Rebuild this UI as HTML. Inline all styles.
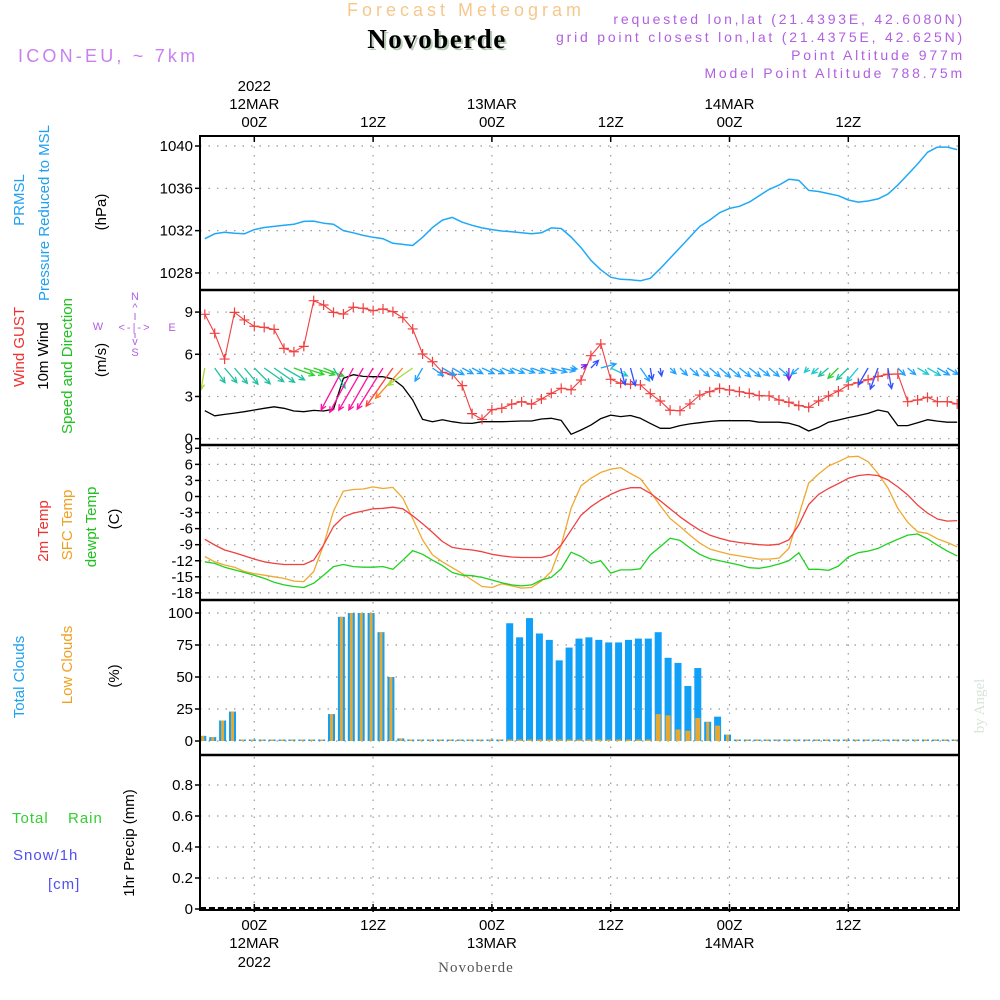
<!DOCTYPE html>
<html><head><meta charset="utf-8"><title>Forecast Meteogram Novoberde</title>
<style>
html,body{margin:0;padding:0;background:#fff;}
svg{display:block;font-family:"Liberation Sans",sans-serif;}
</style></head>
<body>
<svg id="chart" width="1000" height="1000" viewBox="0 0 1000 1000" xmlns="http://www.w3.org/2000/svg">
<rect width="1000" height="1000" fill="#fff"/>
<!-- header -->
<text x="466" y="16" text-anchor="middle" font-size="18" fill="#f5c88c" letter-spacing="4">Forecast Meteogram</text>
<text x="439" y="50" text-anchor="middle" font-family="Liberation Serif,serif" font-weight="bold" font-size="27" fill="#b8ccb8" letter-spacing="1.5">Novoberde</text>
<text x="437" y="48" text-anchor="middle" font-family="Liberation Serif,serif" font-weight="bold" font-size="27" fill="#000" letter-spacing="1.5">Novoberde</text>
<text x="18" y="62" font-size="18" fill="#c880f0" letter-spacing="3.2">ICON-EU, ~ 7km</text>
<g font-size="14" fill="#b060e0" text-anchor="end" letter-spacing="2.8">
<text x="965" y="24">requested lon,lat (21.4393E, 42.6080N)</text>
<text x="965" y="42">grid point closest lon,lat (21.4375E, 42.625N)</text>
<text x="965" y="60">Point Altitude 977m</text>
<text x="965" y="78">Model Point Altitude 788.75m</text>
</g>
<!-- left labels -->
<g font-size="15" text-anchor="middle">
<text transform="translate(24,200) rotate(-90)" fill="#20a0f0">PRMSL</text>
<text transform="translate(49,213) rotate(-90)" fill="#20a0f0">Pressure Reduced to MSL</text>
<text transform="translate(106,212) rotate(-90)" fill="#000">(hPa)</text>
<text transform="translate(24,347) rotate(-90)" fill="#f03030">Wind GUST</text>
<text transform="translate(48,356) rotate(-90)" fill="#000">10m Wind</text>
<text transform="translate(72,366) rotate(-90)" fill="#20c020">Speed and Direction</text>
<text transform="translate(106,360) rotate(-90)" fill="#000">(m/s)</text>
<text transform="translate(48,531) rotate(-90)" fill="#f03030">2m Temp</text>
<text transform="translate(72,525) rotate(-90)" fill="#f0a020">SFC Temp</text>
<text transform="translate(96,527) rotate(-90)" fill="#20c020">dewpt Temp</text>
<text transform="translate(119,519) rotate(-90)" fill="#000">(C)</text>
<text transform="translate(24,677) rotate(-90)" fill="#20a0f0">Total Clouds</text>
<text transform="translate(72,665) rotate(-90)" fill="#f0a020">Low Clouds</text>
<text transform="translate(119,676) rotate(-90)" fill="#000">(%)</text>
<text transform="translate(134,843) rotate(-90)" fill="#000">1hr Precip (mm)</text>
<text x="12" y="823" text-anchor="start" fill="#30d030" letter-spacing="1">Total</text>
<text x="68" y="823" text-anchor="start" fill="#30d030" letter-spacing="1">Rain</text>
<text x="13" y="860" text-anchor="start" fill="#5050f0" letter-spacing="1">Snow/1h</text>
<text x="48" y="889" text-anchor="start" fill="#5050f0" letter-spacing="1">[cm]</text>
</g>
<g font-size="11" fill="#b060e0" text-anchor="middle">
<text x="135" y="300">N</text><text x="135" y="311">^</text>
<text x="135" y="331" letter-spacing="2">&lt;-|-&gt;</text>
<text x="98" y="330">W</text><text x="172" y="331">E</text>
<text x="135" y="345">v</text><text x="135" y="356">S</text>
<line x1="135" y1="313" x2="135" y2="320" stroke="#b060e0"/>
<line x1="135" y1="333" x2="135" y2="338" stroke="#b060e0"/>
</g>
<text transform="translate(984,706) rotate(-90)" text-anchor="middle" font-family="Liberation Serif,serif" font-size="15" fill="#d8e4d8">by Angel</text>
<text x="476" y="972" text-anchor="middle" font-family="Liberation Serif,serif" font-size="15" fill="#555" letter-spacing="1">Novoberde</text>
<g id="plot"></g>
</svg>
<script>
// ---- data (hourly from -5h to +71h relative to 12MAR 00Z) ----
const startHour = -5;
const pressure = [1031.24,1031.7,1031.85,1031.75,1031.7,1032.1,1032.3,1032.4,1032.5,1032.6,1032.87,1032.9,1032.7,1032.6,1032.0,1031.8,1031.55,1031.37,1031.24,1030.8,1030.7,1030.6,1031.37,1032.3,1033.0,1033.25,1032.8,1032.5,1032.26,1032.1,1031.97,1031.9,1031.8,1031.7,1031.8,1032.26,1032.2,1031.4,1030.4,1029.2,1028.3,1027.6,1027.4,1027.35,1027.26,1027.5,1028.4,1029.4,1030.4,1031.4,1032.4,1033.0,1033.7,1034.1,1034.3,1034.7,1035.3,1035.9,1036.3,1036.85,1036.75,1035.8,1035.7,1035.5,1035.3,1034.9,1034.7,1034.8,1035.0,1035.45,1036.3,1037.3,1038.3,1039.4,1039.9,1039.9,1039.65];
const gust = [8.84,7.49,5.66,8.98,8.44,7.99,7.91,7.77,6.42,6.18,6.56,9.81,9.5,8.98,8.86,9.34,9.27,9.1,9.22,9.03,8.6,7.8,6.02,5.47,4.72,4.57,3.77,1.78,1.37,2.06,2.16,2.46,2.63,2.46,2.82,3.22,3.58,3.48,4.17,5.9,6.73,4.22,3.94,3.87,3.82,3.2,2.68,2.02,1.99,2.47,3.1,3.34,3.58,3.46,3.34,3.22,3.06,3.04,2.75,2.59,2.35,2.23,2.68,3.04,3.39,3.82,3.98,4.19,4.43,4.58,4.6,2.63,2.75,2.94,2.63,2.63,2.47];
const wind10 = [1.99,1.63,1.73,1.82,1.92,2.04,2.16,2.27,2.16,1.97,1.92,2.01,1.97,2.1,4.3,4.55,4.43,4.41,4.41,4.24,3.7,2.75,1.37,1.21,1.35,1.21,1.11,1.09,1.21,1.21,1.21,1.23,1.26,1.26,1.4,1.45,1.3,0.31,0.62,0.97,1.43,1.68,1.57,1.65,1.45,1.09,0.74,0.74,0.93,1.05,1.14,1.22,1.28,1.28,1.28,1.28,1.17,1.17,1.17,1.1,0.9,0.55,0.8,1.17,1.33,1.5,1.64,1.8,2.04,1.9,0.93,0.93,1.14,1.35,1.25,1.17,1.17];
const windToAngle = [100,55,50,50,50,45,35,35,30,20,18,18,22,60,118,118,120,120,122,125,132,145,120,35,30,30,28,28,25,25,22,22,20,20,18,15,12,10,-30,-45,-15,25,75,75,55,80,80,45,45,42,42,40,40,40,38,38,38,40,40,90,140,135,140,140,135,135,130,120,110,80,45,40,30,30,30,30,30];
const windColorKey = ["Y","T","T","T","T","T","T","T","T","G","G","G","G","T","M","M","M","M","M","R","O","L","S","S","S","S","S","S","S","S","S","S","S","S","S","S","S","S","P","B","S","C","B","B","S","B","B","S","S","S","S","S","S","S","S","S","S","S","S","P","S","C","C","T","G","T","C","B","B","B","S","S","C","C","S","S","S"];
const temp2m = [-8.0,-9.06,-10.0,-10.5,-11.1,-11.7,-12.2,-12.5,-12.7,-12.7,-12.7,-11.9,-9.06,-5.6,-3.8,-3.1,-2.7,-2.3,-2.2,-2.0,-2.3,-3.6,-5.1,-6.7,-8.4,-9.5,-9.8,-10.0,-10.3,-10.8,-11.1,-11.3,-11.4,-11.4,-11.4,-10.9,-9.06,-6.3,-3.5,-1.9,-0.65,0.4,1.2,1.64,1.64,0.6,-0.8,-2.3,-3.8,-5.1,-6.3,-7.2,-7.8,-8.3,-8.6,-8.8,-9.0,-9.1,-8.9,-8.1,-5.3,-1.5,0.4,1.5,2.4,3.4,3.9,4.1,3.9,3.1,1.8,0.3,-1.6,-3.1,-4.2,-4.6,-4.5];
const tempSfc = [-11.2,-12.2,-12.8,-13.2,-14.0,-14.4,-14.7,-15.0,-15.3,-15.8,-15.9,-14.0,-9.06,-2.7,1.0,1.3,1.4,1.8,1.5,1.7,-0.3,-4.1,-8.1,-10.9,-12.2,-13.3,-14.4,-15.6,-16.8,-17.0,-16.3,-16.7,-17.1,-17.0,-15.8,-14.0,-9.06,-2.2,2.0,3.4,4.5,5.1,5.4,4.3,3.3,0.9,-1.7,-4.1,-5.6,-7.2,-8.7,-9.8,-10.3,-10.8,-11.1,-11.4,-11.7,-11.7,-11.5,-9.7,-3.5,2.5,4.2,5.7,6.5,7.4,7.5,6.5,4.3,1.6,-2.2,-4.8,-6.6,-6.9,-7.9,-8.6,-9.4];
const dewpoint = [-12.2,-12.5,-13.2,-13.7,-14.2,-14.7,-15.3,-16.0,-16.5,-16.8,-17.0,-16.2,-14.7,-13.1,-12.7,-13.1,-13.2,-13.2,-13.1,-13.6,-11.9,-10.1,-10.8,-11.9,-12.9,-14.2,-14.7,-14.8,-15.1,-15.6,-16.1,-16.5,-16.7,-16.5,-15.6,-15.1,-13.5,-10.4,-11.2,-12.5,-12.0,-14.3,-13.7,-13.7,-13.5,-10.9,-9.4,-7.8,-8.2,-9.6,-10.8,-11.6,-12.0,-12.4,-12.8,-13.3,-13.4,-13.1,-12.6,-12.0,-10.5,-13.6,-13.6,-13.8,-13.0,-11.3,-10.5,-10.2,-9.7,-8.8,-8.0,-7.2,-7.0,-7.9,-9.1,-10.2,-11.1];
const totalClouds = [4,3,16,23,0,0,0,0,0,0,0,0,0,21,97,100,100,100,85,50,2,0,0,0,0,0,0,0,0,0,0,92,81,96,84,79,63,73,80,81,79,77,77,79,80,80,85,65,61,43,57,15,19,5,0,0,0,0,0,0,0,0,0,0,0,0,0,0,0,0,0,0,0,0,0,0,0];
const lowClouds = [4,3,16,23,0,0,0,0,0,0,0,0,0,21,97,100,100,100,85,50,2,0,0,0,0,0,0,0,0,0,0,0,0,0,0,0,0,0,0,0,0,0,0,0,0,0,21,20,9,8,18,15,12,5,0,0,0,0,0,0,0,0,0,0,0,0,0,0,0,0,0,0,0,0,0,0,0];
const gridHours = [0,12,24,36,48,60];
const timeLabels = ["00Z","12Z","00Z","12Z","00Z","12Z"];
const dateLabels = ["12MAR","","13MAR","","14MAR",""];
const pressureTicks = [1028,1032,1036,1040];
const windTicks = [0,3,6,9];
const tempTicks = [9,6,3,0,-3,-6,-9,-12,-15,-18];
const cloudTicks = [0,25,50,75,100];
const precipTicks = [0,0.2,0.4,0.6,0.8];
const colorMap = {Y:"#a8d830",T:"#20c0a0",C:"#20c8d0",G:"#30d030",M:"#ff10a0",R:"#ff4040",O:"#ff8020",L:"#a0e040",B:"#3050ff",S:"#20a0ff",P:"#8020e0"};

// ---- axes ----
const L = 200, R = 959;
const xH = h => 254.3 + 9.9 * h;
const yP = p => 146 + (1040 - p) * 10.58;
const yW = v => 438.7 - 14.07 * v;
const yT = t => 448.3 + (9 - t) * 5.355;
const yC = c => 741 - 1.28 * c;
const yR = v => 909 - 155 * v;
const panels = [[136,290],[290,445],[445,600],[600,755],[755,910]];

const NS = "http://www.w3.org/2000/svg";
const plot = document.getElementById("plot");
function mk(tag, attrs, parent) {
  const e = document.createElementNS(NS, tag);
  for (const k in attrs) e.setAttribute(k, attrs[k]);
  (parent || plot).appendChild(e);
  return e;
}
const defs = mk("defs", {});
const cp = mk("clipPath", {id: "clip"}, defs);
mk("rect", {x: L, y: 136, width: R - L, height: 774}, cp);

// grids
const grid = mk("g", {stroke: "#999", "stroke-width": 1.2, "stroke-dasharray": "1.5 7"});


gridHours.forEach(h => {
  panels.forEach(p => {
    mk("line", {x1: xH(h), x2: xH(h), y1: p[0] + 2, y2: p[1] - 1}, grid);
  });
});
function hgrid(ticks, yf, name) {
  const g = mk("g", {});
  
  
  ticks.forEach(t => {
    const y = yf(t);
    mk("line", {x1: L, x2: R, y1: y, y2: y, stroke: "#999", "stroke-width": 1.2, "stroke-dasharray": "1.5 7"}, g);
    mk("line", {x1: L - 5, x2: L, y1: y, y2: y, stroke: "#000", "stroke-width": 1.5}, g);
    const tx = mk("text", {x: L - 7, y: y + 5, "text-anchor": "end", "font-size": 15, fill: "#000"}, g);
    tx.textContent = String(t);
  });
}
hgrid(pressureTicks, yP, "pressure-y-axis");
hgrid(windTicks, yW, "wind-y-axis");
hgrid(tempTicks, yT, "temp-y-axis");
hgrid(cloudTicks, yC, "cloud-y-axis");
hgrid(precipTicks, yR, "precip-y-axis");

// time axis labels
const ta = mk("g", {"font-size": 15, fill: "#000", "text-anchor": "middle"});


gridHours.forEach((h, i) => {
  const x = xH(h);
  let t = mk("text", {x: x, y: 127}, ta); t.textContent = timeLabels[i];
  t = mk("text", {x: x, y: 930}, ta); t.textContent = timeLabels[i];
  if (dateLabels[i]) {
    t = mk("text", {x: x, y: 109}, ta); t.textContent = dateLabels[i];
    t = mk("text", {x: x, y: 948}, ta); t.textContent = dateLabels[i];
  }
  mk("line", {x1: x, x2: x, y1: 136, y2: 142, stroke: "#000", "stroke-width": 1.5}, ta);
  mk("line", {x1: x, x2: x, y1: 904, y2: 912, stroke: "#000", "stroke-width": 1.5}, ta);
});
let yr = mk("text", {x: xH(0), y: 91}, ta); yr.textContent = "2022";
yr = mk("text", {x: xH(0), y: 967}, ta); yr.textContent = "2022";

const data = mk("g", {"clip-path": "url(#clip)"});
function line(arr, yf, color, name, width) {
  const pts = arr.map((v, i) => xH(startHour + i).toFixed(1) + "," + yf(v).toFixed(1)).join(" ");
  const pl = mk("polyline", {points: pts, fill: "none", stroke: color, "stroke-width": width || 1.3, "stroke-linejoin": "round"}, data);
  
  
  return pl;
}
// pressure
line(pressure, yP, "#20a8f8", "pressure-line", 1.5);
// wind 10m
line(wind10, yW, "#000", "wind-speed-line", 1.3);
// gust
line(gust, yW, "#f04040", "wind-gust-line", 1.1);
const gm = mk("g", {stroke: "#f04040", "stroke-width": 1.2}, data);


gust.forEach((v, i) => {
  const x = xH(startHour + i), y = yW(v);
  mk("path", {d: `M${x-5},${y}H${x+5}M${x},${y-5}V${y+5}`}, gm);
});
// wind arrows
const wa = mk("g", {"stroke-width": 1.3, fill: "none"}, data);


windToAngle.forEach((a, i) => {
  const x0 = xH(startHour + i), y0 = 368;
  const len = Math.max(6, wind10[i] * 11);
  const r = a * Math.PI / 180;
  const x1 = x0 + len * Math.cos(r), y1 = y0 + len * Math.sin(r);
  const hl = 6, ha = 0.45;
  const hx1 = x1 - hl * Math.cos(r - ha), hy1 = y1 - hl * Math.sin(r - ha);
  const hx2 = x1 - hl * Math.cos(r + ha), hy2 = y1 - hl * Math.sin(r + ha);
  mk("path", {d: `M${x0},${y0}L${x1},${y1}M${hx1},${hy1}L${x1},${y1}L${hx2},${hy2}`, stroke: colorMap[windColorKey[i]]}, wa);
});
// temperatures
line(tempSfc, yT, "#f0a830", "sfc-temp-line", 1.3);
line(temp2m, yT, "#f04040", "temp-2m-line", 1.3);
line(dewpoint, yT, "#20d020", "dewpoint-line", 1.3);
// clouds
const cb = mk("g", {}, data);


totalClouds.forEach((v, i) => {
  const x = xH(startHour + i) - 2;
  const h = Math.max(1.5, v * 1.28);
  mk("rect", {x: x - 3.5, y: yC(0) - h, width: 7, height: h, fill: "#10a0f8"}, cb);
  const lv = lowClouds[i];
  const lh = Math.max(1.5, lv * 1.28);
  mk("rect", {x: x - (v === lv ? 1.5 : 2.5), y: yC(0) - lh, width: v === lv ? 3 : 5, height: lh, fill: "#e8a830"}, cb);
});
// precip zero dashed
const pz = mk("line", {x1: L, x2: R, y1: 908, y2: 908, stroke: "#000", "stroke-width": 2, "stroke-dasharray": "6 3"}, data);



// panel frames
const fr = mk("g", {fill: "none", stroke: "#000", "stroke-width": 2});


mk("rect", {x: L, y: 136, width: R - L, height: 774}, fr);
[290, 445, 600, 755].forEach(y => mk("line", {x1: L, x2: R, y1: y, y2: y, "stroke-width": 2.5}, fr));
</script>
</body></html>
